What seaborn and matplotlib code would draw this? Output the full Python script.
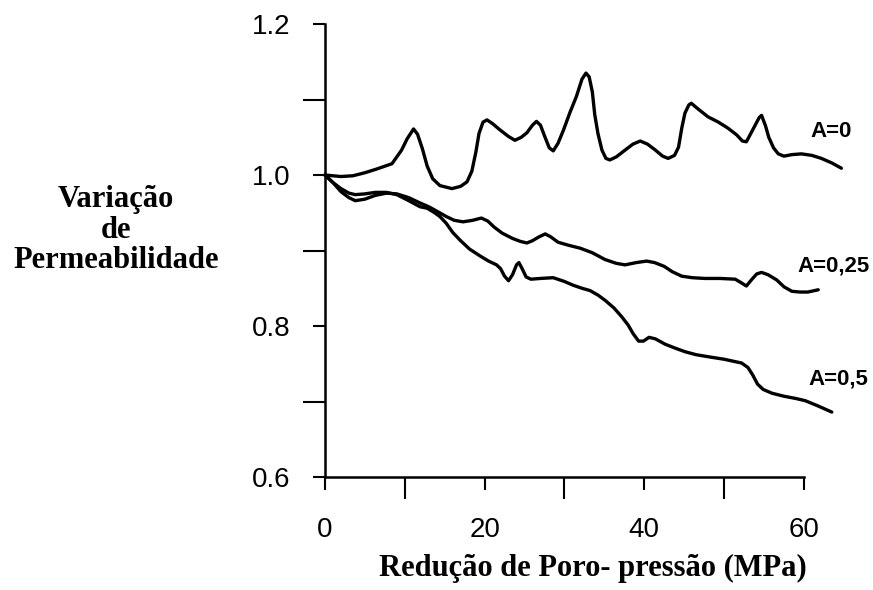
import matplotlib
matplotlib.use("Agg")
import matplotlib.pyplot as plt
import pandas as pd
import seaborn as sns

# Permeability variation versus pore-pressure reduction for three values of A
a0_x = [0, 2.0, 3.5, 5.0, 6.5, 8.4, 9.6, 10.3, 11.1, 11.6, 12.2, 12.8, 13.5,
        14.4, 15.9, 17.0, 17.8, 18.4, 18.9, 19.3, 19.8, 20.3, 21.0, 21.9, 23.0,
        23.8, 24.6, 25.3, 26.0, 26.5, 27.0, 27.5, 28.1, 28.6, 29.2, 29.9, 30.7,
        31.5, 32.2, 32.7, 33.1, 33.5, 33.8, 34.2, 34.7, 35.2, 35.7, 36.5, 37.6,
        38.6, 39.5, 40.4, 41.4, 42.3, 43.0, 43.8, 44.3, 44.7, 45.1, 45.6, 45.9,
        46.8, 48.0, 49.3, 50.5, 51.6, 52.3, 52.8, 53.4, 53.9, 54.4, 54.7, 55.2,
        55.6, 56.2, 56.8, 57.5, 58.5, 59.7, 61.0, 62.2, 63.5, 64.7]
a0_y = [1.000, 0.998, 0.999, 1.003, 1.008, 1.015, 1.033, 1.048, 1.061, 1.054,
        1.035, 1.012, 0.995, 0.986, 0.982, 0.985, 0.991, 1.005, 1.030, 1.055,
        1.070, 1.073, 1.068, 1.060, 1.051, 1.046, 1.050, 1.056, 1.066, 1.071,
        1.066, 1.052, 1.036, 1.032, 1.042, 1.060, 1.083, 1.104, 1.127, 1.135,
        1.130, 1.110, 1.080, 1.055, 1.033, 1.022, 1.020, 1.024, 1.033, 1.041,
        1.045, 1.041, 1.033, 1.025, 1.022, 1.026, 1.037, 1.062, 1.082, 1.093,
        1.095, 1.087, 1.077, 1.070, 1.062, 1.053, 1.045, 1.044, 1.056, 1.066,
        1.076, 1.079, 1.065, 1.050, 1.036, 1.028, 1.025, 1.027, 1.028, 1.026,
        1.022, 1.016, 1.009]

a025_x = [0, 1.0, 2.0, 3.0, 3.8, 5.0, 6.3, 7.7, 9.0, 10.5, 11.9, 13.0, 14.2,
          15.2, 16.2, 17.3, 18.5, 19.6, 20.4, 21.2, 22.2, 23.5, 24.5, 25.3, 26.0,
          26.8, 27.6, 28.3, 29.2, 30.5, 32.0, 33.5, 35.1, 36.5, 37.6, 39.0, 40.3,
          41.3, 42.5, 43.5, 44.7, 46.0, 47.6, 49.5, 51.4, 52.2, 52.8, 53.5, 54.1,
          54.7, 55.5, 56.6, 57.5, 58.5, 59.5, 60.5, 61.8]
a025_y = [1.000, 0.990, 0.978, 0.970, 0.966, 0.968, 0.973, 0.976, 0.975, 0.970,
          0.963, 0.958, 0.951, 0.945, 0.940, 0.938, 0.940, 0.943, 0.939, 0.931,
          0.923, 0.916, 0.912, 0.910, 0.913, 0.918, 0.922, 0.918, 0.911, 0.907,
          0.903, 0.897, 0.888, 0.883, 0.881, 0.884, 0.886, 0.884, 0.879, 0.872,
          0.866, 0.864, 0.863, 0.863, 0.862, 0.857, 0.853, 0.862, 0.869, 0.871,
          0.868, 0.861, 0.852, 0.846, 0.845, 0.845, 0.848]

a05_x = [0, 1.0, 2.0, 3.0, 3.8, 5.0, 6.3, 7.7, 9.0, 10.5, 11.9, 12.8, 13.6, 14.4,
         15.2, 16.0, 16.9, 18.1, 19.4, 20.5, 21.5, 22.0, 22.5, 23.0, 23.5, 24.0,
         24.3, 24.7, 25.2, 25.8, 27.0, 28.6, 30.0, 31.1, 32.2, 33.2, 34.2, 35.1,
         36.2, 37.2, 38.0, 38.6, 39.3, 39.9, 40.6, 41.4, 42.6, 43.8, 45.1, 46.5,
         48.2, 50.0, 52.2, 53.0, 53.6, 54.2, 54.9, 56.0, 57.5, 59.0, 60.2, 61.8,
         63.5]
a05_y = [1.000, 0.990, 0.982, 0.976, 0.974, 0.975, 0.977, 0.977, 0.974, 0.966,
         0.958, 0.956, 0.951, 0.945, 0.936, 0.924, 0.914, 0.902, 0.893, 0.886,
         0.881, 0.876, 0.866, 0.860, 0.868, 0.881, 0.884, 0.876, 0.865, 0.862,
         0.863, 0.864, 0.859, 0.854, 0.850, 0.847, 0.841, 0.834, 0.824, 0.812,
         0.801, 0.790, 0.780, 0.780, 0.785, 0.783, 0.776, 0.771, 0.766, 0.762,
         0.759, 0.756, 0.751, 0.745, 0.735, 0.723, 0.716, 0.711, 0.707, 0.704,
         0.701, 0.694, 0.686]

series_names = ["A=0", "A=0,25", "A=0,5"]
label_pos = [(63.4, 1.057), (63.7, 0.879), (64.3, 0.730)]

x_ticks = [0, 20, 40, 60]
x_minor = [10, 30, 50]
y_ticks = [0.6, 0.8, 1.0, 1.2]
y_tick_labels = ["0.6", "0.8", "1.0", "1.2"]
y_minor = [0.7, 0.9, 1.1]

x_title = "Redução de Poro- pressão (MPa)"
y_title = "Variação\nde\nPermeabilidade"

frames = []
for name, xs, ys in zip(series_names, [a0_x, a025_x, a05_x], [a0_y, a025_y, a05_y]):
    frames.append(pd.DataFrame({"pressao": xs, "perm": ys, "serie": name}))
df = pd.concat(frames, ignore_index=True)

sns.set_style("ticks")
plt.rcParams["font.family"] = ["Liberation Sans", "DejaVu Sans"]
plt.rcParams["text.color"] = "black"
plt.rcParams["axes.labelcolor"] = "black"

fig = plt.figure(figsize=(8.73, 5.9), dpi=100)
ax = fig.add_axes([0.3631, 0.1659, 0.6217, 0.819])

sns.lineplot(data=df, x="pressao", y="perm", hue="serie", estimator=None,
             sort=False, palette={n: "black" for n in series_names},
             linewidth=2.4, legend=False, ax=ax)
for line in ax.get_lines():
    line.set_solid_joinstyle("round")
    line.set_solid_capstyle("round")

ax.set_xlim(-1, 67)
ax.set_ylim(0.58, 1.22)

for side in ["top", "right"]:
    ax.spines[side].set_visible(False)
ax.spines["left"].set_position(("data", 0))
ax.spines["left"].set_bounds(0.6, 1.2)
ax.spines["bottom"].set_position(("data", 0.6))
ax.spines["bottom"].set_bounds(0, 60)
for side in ["left", "bottom"]:
    ax.spines[side].set_linewidth(1.8)
    ax.spines[side].set_color("black")

ax.set_xticks(x_ticks)
ax.set_xticklabels([str(v) for v in x_ticks])
ax.set_xticks(x_minor, minor=True)
ax.set_yticks(y_ticks)
ax.set_yticklabels(y_tick_labels)
ax.set_yticks(y_minor, minor=True)

ax.tick_params(which="major", length=9, width=1.5, direction="out",
               color="black", labelsize=20, labelcolor="black")
ax.tick_params(which="minor", length=15.5, width=1.5, direction="out",
               color="black")
ax.tick_params(axis="y", which="major", pad=16)
ax.tick_params(axis="x", which="major", pad=20)

for name, (lx, ly) in zip(series_names, label_pos):
    ax.text(lx, ly, name, ha="center", va="center", fontsize=16,
            fontweight="bold", color="black",
            family=["Liberation Sans", "DejaVu Sans"])

serif_bold = dict(family=["Liberation Serif", "DejaVu Serif"], fontweight="bold",
                  fontsize=22, color="black")
ax.set_xlabel(x_title, **serif_bold)
ax.xaxis.set_label_coords(0.5086, -0.157)
ax.xaxis.label.set_va("center")

ax.set_ylabel(y_title, rotation=0, ha="center", va="center",
              multialignment="center", linespacing=1.05, **serif_bold)
ax.yaxis.set_label_coords(-0.370, 0.5424)

fig.savefig("out.png", dpi=100)
